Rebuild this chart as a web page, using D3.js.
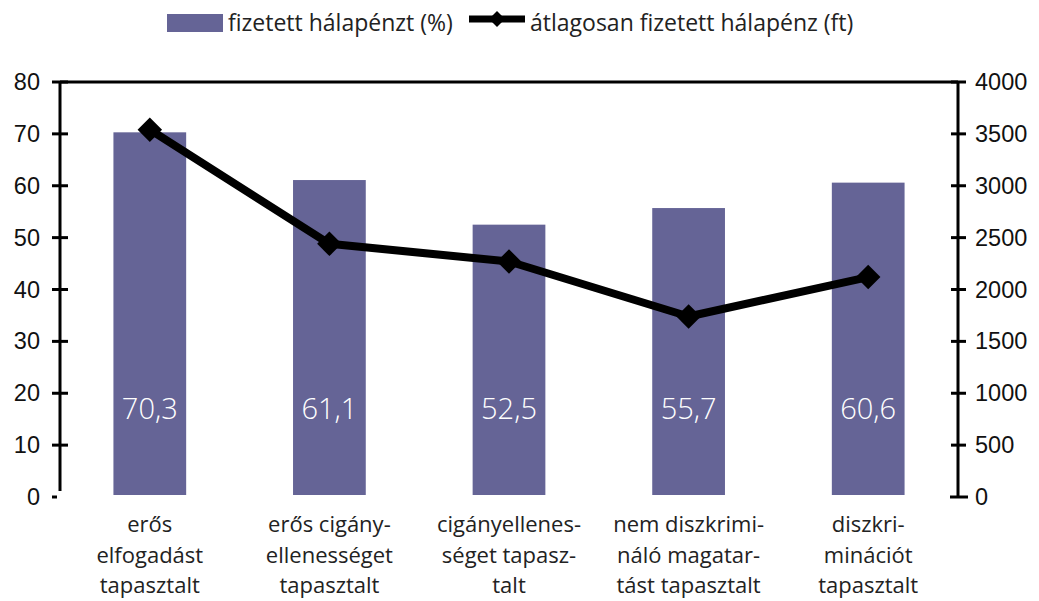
<!DOCTYPE html>
<html><head><meta charset="utf-8">
<script src="https://cdn.jsdelivr.net/npm/d3@7"></script>
<style>body{margin:0;background:#fff}</style>
</head><body>
<svg id="c" width="1039" height="601"></svg>
<script>
const categories = [
  ["erős","elfogadást","tapasztalt"],
  ["erős cigány-","ellenességet","tapasztalt"],
  ["cigányellenes-","séget tapasz-","talt"],
  ["nem diszkrimi-","náló magatar-","tást tapasztalt"],
  ["diszkri-","minációt","tapasztalt"]
];
const barValues = [70.3, 61.1, 52.5, 55.7, 60.6];
const barLabels = ["70,3","61,1","52,5","55,7","60,6"];
const lineValues = [3540, 2440, 2270, 1740, 2120];
const leftTicks = [0,10,20,30,40,50,60,70,80];
const rightTicks = [0,500,1000,1500,2000,2500,3000,3500,4000];
const legendLabels = ["fizetett hálapénzt (%)", "átlagosan fizetett hálapénz (ft)"];

const svg = d3.select("#c");
const L = 60, R = 958, T = 82, B = 497;
const idx = categories.map((d,i)=>i);
const x = d3.scaleBand().domain(idx).range([L,R]).paddingInner(0.595).paddingOuter(0.2975);
const yL = d3.scaleLinear().domain([0,80]).range([B,T]);
const yR = d3.scaleLinear().domain([0,4000]).range([B,T]);
const barColor = "#656496";
const tickFont = "'Liberation Sans', Arial, sans-serif";
const textFont = "'Open Sans', sans-serif";

// bars
svg.append("g").selectAll("rect").data(barValues).join("rect")
  .attr("x",(d,i)=>x(i)).attr("width",x.bandwidth())
  .attr("y",d=>yL(d)).attr("height",d=>yL(0)-yL(d)-2)
  .attr("fill",barColor);
svg.append("g").selectAll("text").data(barLabels).join("text")
  .attr("x",(d,i)=>x(i)+x.bandwidth()/2).attr("y",419)
  .attr("text-anchor","middle").attr("fill","#fff")
  .style("font-family",textFont).style("font-weight",300).style("font-size","29px")
  .text(d=>d);

// top line
svg.append("line").attr("x1",L).attr("x2",R).attr("y1",T).attr("y2",T)
  .attr("stroke","#000").attr("stroke-width",3);

// left axis
const gl = svg.append("g");
gl.append("line").attr("x1",L).attr("x2",L).attr("y1",T).attr("y2",B-6).attr("stroke","#000").attr("stroke-width",3);
gl.selectAll("line.t").data(leftTicks).join("line").attr("class","t")
  .attr("x1",52).attr("x2",d=>d===0?57:68)
  .attr("y1",d=>yL(d)).attr("y2",d=>yL(d)).attr("stroke","#000").attr("stroke-width",3);
gl.selectAll("text").data(leftTicks).join("text")
  .attr("x",40).attr("y",d=>yL(d)+8).attr("text-anchor","end")
  .style("font-family",tickFont).style("font-size","23.5px").attr("fill","#111")
  .text(d=>d);

// right axis
const gr = svg.append("g");
gr.append("line").attr("x1",R).attr("x2",R).attr("y1",T).attr("y2",B).attr("stroke","#000").attr("stroke-width",3);
gr.selectAll("line.t").data(rightTicks).join("line").attr("class","t")
  .attr("x1",d=>d===0?950:951).attr("x2",d=>d===0?968:966)
  .attr("y1",d=>yR(d)).attr("y2",d=>yR(d)).attr("stroke","#000").attr("stroke-width",3);
gr.selectAll("text").data(rightTicks).join("text")
  .attr("x",975).attr("y",d=>yR(d)+8).attr("text-anchor","start")
  .style("font-family",tickFont).style("font-size","23.5px").attr("fill","#111")
  .text(d=>d);

// line
const line = d3.line().x((d,i)=>x(i)+x.bandwidth()/2).y(d=>yR(d));
svg.append("path").datum(lineValues).attr("d",line)
  .attr("fill","none").attr("stroke","#000").attr("stroke-width",8).attr("stroke-linejoin","round");
const marker = d3.symbol().type(d3.symbolSquare).size(300);
svg.append("g").selectAll("path").data(lineValues).join("path")
  .attr("d",marker).attr("transform",(d,i)=>`translate(${x(i)+x.bandwidth()/2},${yR(d)}) rotate(45)`)
  .attr("fill","#000");

// category labels
const gc = svg.append("g");
categories.forEach((lines,i)=>{
  const t = gc.append("text").attr("text-anchor","middle")
    .style("font-family",textFont).style("font-size","22px").attr("fill","#222");
  lines.forEach((s,j)=>t.append("tspan").attr("x",x(i)+x.bandwidth()/2).attr("y",532+j*30.5).text(s));
});

// legend
const lg = svg.append("g");
const legMarker = d3.symbol().type(d3.symbolSquare).size(130);
lg.append("rect").attr("x",167).attr("y",14).attr("width",56).attr("height",18).attr("fill",barColor);
lg.append("text").attr("x",228).attr("y",31).style("font-family",textFont).style("font-size","23px").attr("fill","#222").text(legendLabels[0]);
lg.append("line").attr("x1",469).attr("x2",525).attr("y1",19).attr("y2",19).attr("stroke","#000").attr("stroke-width",7);
lg.append("path").attr("d",legMarker).attr("transform","translate(497,19) rotate(45)").attr("fill","#000");
lg.append("text").attr("x",530).attr("y",31).style("font-family",textFont).style("font-size","23px").attr("fill","#222").text(legendLabels[1]);
</script>
</body></html>
